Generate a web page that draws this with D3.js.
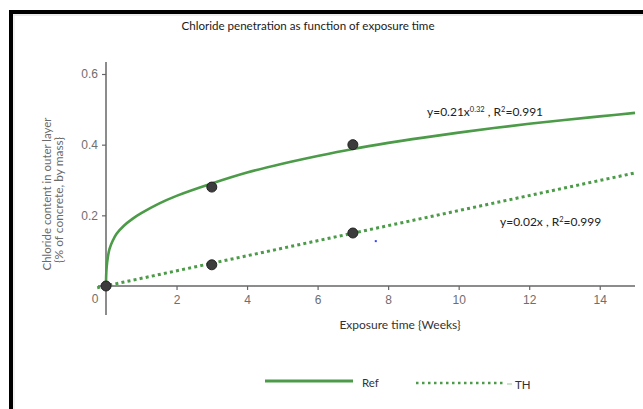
<!DOCTYPE html>
<html lang="en">
<head>
<meta charset="utf-8">
<title>Chloride penetration</title>
<script src="https://d3js.org/d3.v7.min.js"></script>
<style>
  body { margin: 0; background: #fff; }
  .tick text { font: 12px "Liberation Sans", Arial, sans-serif; fill: #6e6e6e; }
  .lbl { font-family: Lato, "Open Sans", sans-serif; }
</style>
</head>
<body>
<script>
// data
var refX = [0, 0.005, 0.02, 0.05, 0.1, 0.2, 0.3, 0.5, 0.75, 1, 1.5, 2, 3, 4, 5, 6, 7, 8, 9, 10, 11, 12, 13, 14, 15];
var refY = [0, 0.03, 0.055, 0.08, 0.105, 0.13, 0.148, 0.17, 0.19, 0.206, 0.233, 0.255, 0.29, 0.321, 0.346, 0.368, 0.388, 0.405, 0.42, 0.434, 0.447, 0.459, 0.47, 0.48, 0.49];
var thX = [-0.25, 15];
var thY = [-0.005, 0.32];
var ptX = [0, 3, 3, 7, 7];
var ptY = [0, 0.28, 0.06, 0.40, 0.15];
var xTicks = [2, 4, 6, 8, 10, 12, 14];
var yTicks = [0.2, 0.4, 0.6];
var legendNames = ["Ref", "TH"];

var w = 643, h = 409;
var green = "#4c9b48";

var x = d3.scaleLinear().domain([0, 15]).range([106, 635]);
var y = d3.scaleLinear().domain([0, 0.6]).range([286, 74]);

var svg = d3.select("body").append("svg").attr("width", w).attr("height", h);

// frame
svg.append("line").attr("x1", 11).attr("x2", w).attr("y1", 15).attr("y2", 15).attr("stroke", "#d8d8d8").attr("stroke-width", 1);
svg.append("line").attr("x1", 14).attr("x2", 14).attr("y1", 15).attr("y2", h).attr("stroke", "#e4e4e4").attr("stroke-width", 1);
svg.append("line").attr("x1", 9).attr("x2", w).attr("y1", 12).attr("y2", 12).attr("stroke", "#000").attr("stroke-width", 4);
svg.append("line").attr("x1", 11).attr("x2", 11).attr("y1", 10).attr("y2", h).attr("stroke", "#000").attr("stroke-width", 4);

// title
svg.append("text").attr("class", "lbl")
  .attr("x", 308).attr("y", 30)
  .attr("text-anchor", "middle")
  .style("font-size", "12px").attr("fill", "#1a1a1a")
  .attr("textLength", 253).attr("lengthAdjust", "spacingAndGlyphs")
  .text("Chloride penetration as function of exposure time");

// axes
var xAxis = d3.axisBottom(x).tickValues(xTicks).tickSize(4).tickPadding(5).tickFormat(d3.format("d"));
var yAxis = d3.axisLeft(y).tickValues(yTicks).tickSize(4).tickPadding(4).tickFormat(d3.format(".1f"));

var gx = svg.append("g").attr("transform", "translate(0," + y(0) + ")").call(xAxis);
var gy = svg.append("g").attr("transform", "translate(" + x(0) + ",0)").call(yAxis);
[gx, gy].forEach(function(g) {
  g.select(".domain").remove();
  g.selectAll(".tick line").attr("stroke", "#666").attr("stroke-width", 1.2);
});

svg.append("line").attr("x1", x(0) - 8).attr("x2", x(15)).attr("y1", y(0)).attr("y2", y(0))
  .attr("stroke", "#666").attr("stroke-width", 1.5);
svg.append("line").attr("x1", x(0)).attr("x2", x(0)).attr("y1", 62).attr("y2", 315)
  .attr("stroke", "#666").attr("stroke-width", 1.5);

// origin label
svg.append("text").attr("x", x(0) - 11).attr("y", y(0) + 17)
  .attr("text-anchor", "middle")
  .style("font", "12px 'Liberation Sans', Arial, sans-serif").attr("fill", "#6e6e6e")
  .text("0");

// axis titles
svg.append("text").attr("class", "lbl")
  .attr("x", 400).attr("y", 329).attr("text-anchor", "middle")
  .style("font-size", "12px").attr("fill", "#333")
  .text("Exposure time {Weeks}");

var yl = svg.append("text").attr("class", "lbl")
  .attr("transform", "translate(51,194) rotate(-90)")
  .attr("text-anchor", "middle")
  .style("font-size", "12px").attr("fill", "#6a6a6a");
yl.append("tspan").attr("x", 0).attr("dy", 0)
  .attr("textLength", 153).attr("lengthAdjust", "spacingAndGlyphs")
  .text("Chloride content in outer layer");
yl.append("tspan").attr("x", -6).attr("dy", 11.5)
  .attr("textLength", 126).attr("lengthAdjust", "spacingAndGlyphs")
  .text("{% of concrete, by mass}");

// lines
var line = d3.line().x(function(d) { return x(d[0]); }).y(function(d) { return y(d[1]); });

svg.append("path")
  .attr("d", line.curve(d3.curveCatmullRom.alpha(0.5))(d3.zip(refX, refY)))
  .attr("fill", "none").attr("stroke", green).attr("stroke-width", 2.6);

svg.append("path")
  .attr("d", line.curve(d3.curveLinear)(d3.zip(thX, thY)))
  .attr("fill", "none").attr("stroke", green).attr("stroke-width", 3)
  .attr("stroke-dasharray", "3,3.2");

// points
svg.append("g").selectAll("circle")
  .data(d3.zip(ptX, ptY))
  .enter().append("circle")
  .attr("cx", function(d) { return x(d[0]); })
  .attr("cy", function(d) { return y(d[1]); })
  .attr("r", 5)
  .attr("fill", "#3c3c3c").attr("stroke", "#222").attr("stroke-width", 1);

// stray blue speck seen in the picture
svg.append("rect").attr("x", x(7.65) - 1).attr("y", y(0.127) - 1).attr("width", 2).attr("height", 2).attr("fill", "#3344ff");

// equations
var e1 = svg.append("text").attr("class", "lbl")
  .attr("x", 427).attr("y", 116).style("font-size", "12px").attr("fill", "#222");
e1.append("tspan").text("y=0.21x");
e1.append("tspan").attr("dy", -4).style("font-size", "7.5px").text("0.32");
e1.append("tspan").attr("dy", 4).text("  , R");
e1.append("tspan").attr("dy", -4).style("font-size", "7.5px").text("2");
e1.append("tspan").attr("dy", 4).text("=0.991");

var e2 = svg.append("text").attr("class", "lbl")
  .attr("x", 500).attr("y", 226).style("font-size", "12px").attr("fill", "#222");
e2.append("tspan").text("y=0.02x  , R");
e2.append("tspan").attr("dy", -4).style("font-size", "7.5px").text("2");
e2.append("tspan").attr("dy", 4).text("=0.999");

// legend
var leg = svg.append("g");
leg.append("line").attr("x1", 265).attr("x2", 353).attr("y1", 381).attr("y2", 381)
  .attr("stroke", green).attr("stroke-width", 3);
leg.append("text").attr("class", "lbl").attr("x", 362).attr("y", 387)
  .style("font-size", "11.5px").attr("fill", "#333").text(legendNames[0]);
leg.append("line").attr("x1", 416).attr("x2", 506).attr("y1", 383).attr("y2", 383)
  .attr("stroke", green).attr("stroke-width", 2.5).attr("stroke-dasharray", "2.5,3.5");
leg.append("line").attr("x1", 507).attr("x2", 512).attr("y1", 384).attr("y2", 384)
  .attr("stroke", "#9cc79a").attr("stroke-width", 1);
leg.append("text").attr("class", "lbl").attr("x", 515).attr("y", 389)
  .style("font-size", "11.5px").attr("fill", "#333").text(legendNames[1]);
</script>
</body>
</html>
